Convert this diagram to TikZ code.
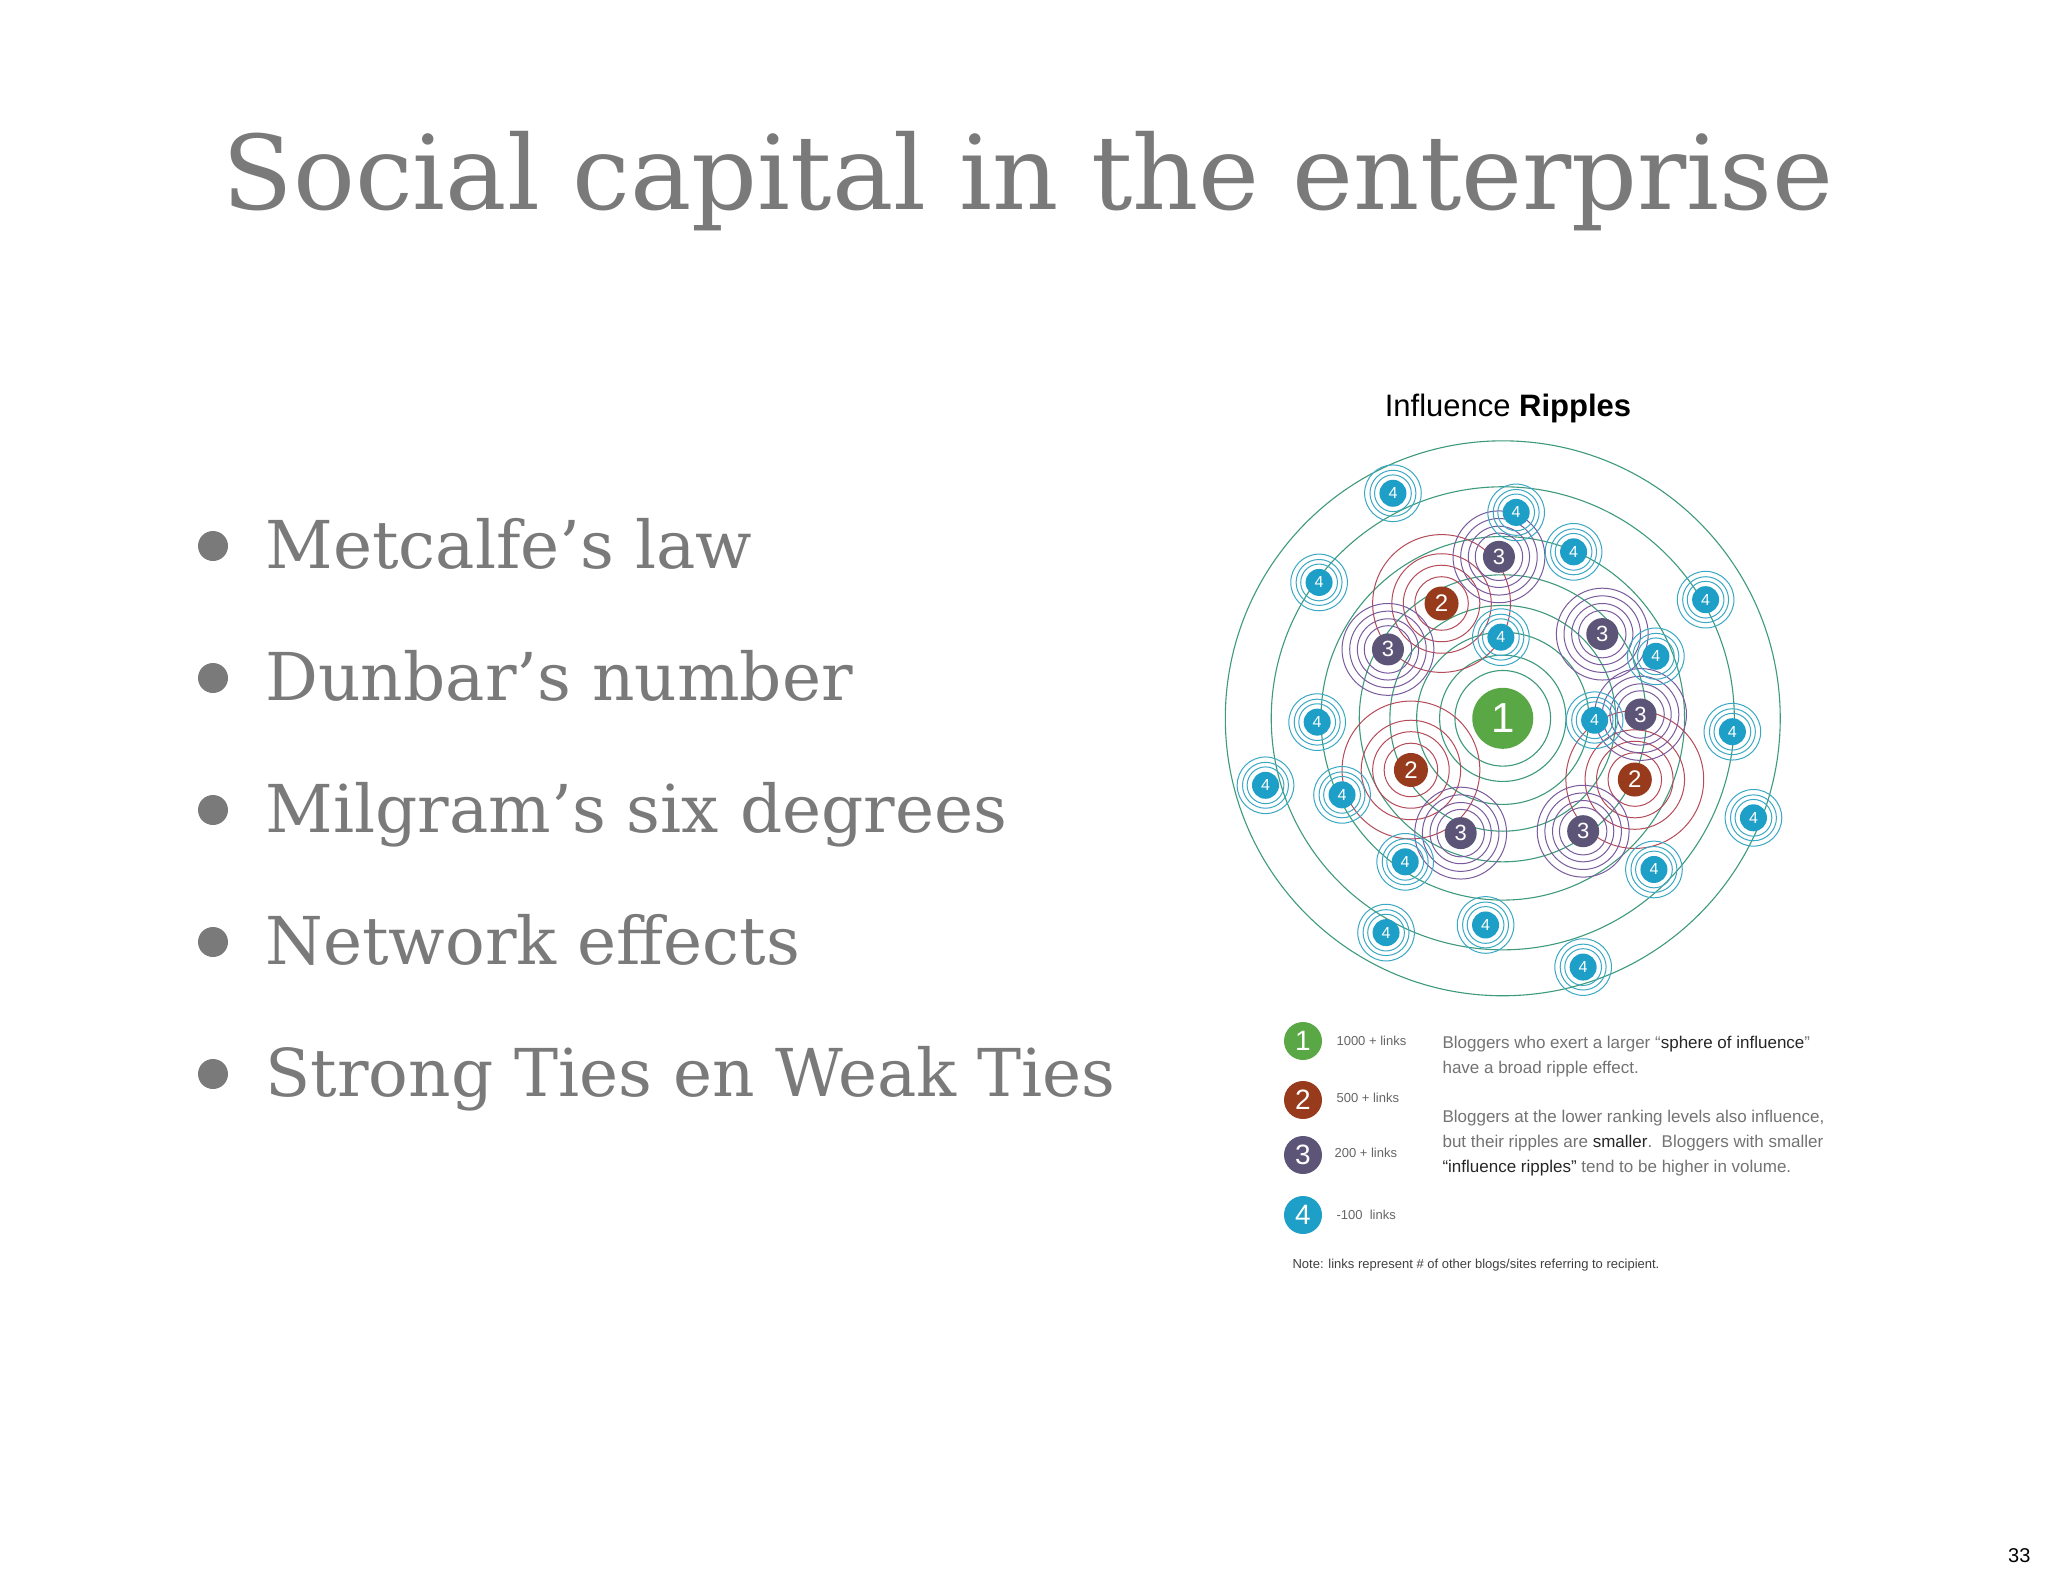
\documentclass[tikz,border=0pt]{standalone}
\usepackage{fontspec}
\setmainfont{DejaVu Serif}
\newfontfamily\hv{Liberation Sans}
\begin{document}
\begin{tikzpicture}[x=1pt,y=-1pt,
  ttl/.style={anchor=base west,text=black!52,font=\fontsize{103}{110}\selectfont},
  bul/.style={anchor=base west,text=black!52,font=\fontsize{66}{72}\selectfont},
  dot/.style={circle,fill=black!52,minimum size=30,inner sep=0},
  nA/.style={circle,fill=c1,text=white,minimum size=61,inner sep=0,font=\hv\fontsize{42}{42}\selectfont},
  nB/.style={circle,fill=c2,text=white,minimum size=34,inner sep=0,font=\hv\fontsize{24}{24}\selectfont},
  nC/.style={circle,fill=c3,text=white,minimum size=32,inner sep=0,font=\hv\fontsize{22}{22}\selectfont},
  nD/.style={circle,fill=c4,text=white,minimum size=27,inner sep=0,font=\hv\fontsize{16}{16}\selectfont},
  lg/.style={anchor=base west,text=black!60,font=\hv\fontsize{13}{15}\selectfont},
  ds/.style={anchor=base west,text=black!55,font=\hv\fontsize{17}{20}\selectfont},
]
\definecolor{c1}{HTML}{5AA845}
\definecolor{c2}{HTML}{983A1C}
\definecolor{c3}{HTML}{5C5578}
\definecolor{c4}{HTML}{1E9FC8}
\definecolor{gr}{HTML}{3E9A7A}
\definecolor{rr}{HTML}{B54A58}
\definecolor{pr}{HTML}{7A5A9E}
\definecolor{br}{HTML}{3AA8C4}
\useasboundingbox[fill=white] (0,0) rectangle (2048,1576);
\node[ttl] (title) at (219,209) {Social capital in the enterprise};
\foreach \t [count=\i] in {Metcalfe’s law,Dunbar’s number,Milgram’s six degrees,Network effects,Strong Ties en Weak Ties}{
  \node[dot] (d\i) at (213,{568+132*(\i-1)-22}) {};
  \node[bul] (b\i) at (262,{568+132*(\i-1)}) {\t};
}
\node[anchor=base,font=\hv\fontsize{31}{34}\selectfont] (rt) at (1508,416) {Influence \textbf{Ripples}};
\begin{scope}[shift={(1210,393)},x=0.3827pt,y=-0.3827pt]
  \foreach \r in {125,165,225,295,375,475,605,725} \draw[gr,line width=1.1pt] (765,850) circle (\r);
  \foreach \x/\y in {605/550,525/985,1110/1010}{
    \foreach \r in {70,100,130,180} \draw[rr,line width=1pt] (\x,\y) circle (\r);}
  \foreach \x/\y in {755/428,465/670,1025/630,1125/840,655/1150,975/1145}{
    \foreach \r in {62,80,100,120} \draw[pr,line width=1pt] (\x,\y) circle (\r);}
  \foreach \x/\y in {478/262,800/312,950/415,285/495,1295/540,760/638,1165/688,280/860,1005/855,1365/885,145/1025,345/1050,1420/1110,510/1225,1160/1245,460/1410,720/1390,975/1500}{
    \foreach \r in {48,60,74} \draw[br,line width=1pt] (\x,\y) circle (\r);}
  \node[nA] (n1) at (765,850) {1};
  \foreach \x/\y [count=\i] in {605/550,525/985,1110/1010} \node[nB] (m\i) at (\x,\y) {2};
  \foreach \x/\y [count=\i] in {755/428,465/670,1025/630,1125/840,655/1150,975/1145} \node[nC] (k\i) at (\x,\y) {3};
  \foreach \x/\y [count=\i] in {478/262,800/312,950/415,285/495,1295/540,760/638,1165/688,280/860,1005/855,1365/885,145/1025,345/1050,1420/1110,510/1225,1160/1245,460/1410,720/1390,975/1500} \node[nD] (j\i) at (\x,\y) {4};
\end{scope}
% legend
\node[nA,minimum size=38,font=\hv\fontsize{28}{28}\selectfont] (L1) at (1303,1041) {1};
\node[nB,minimum size=38,font=\hv\fontsize{28}{28}\selectfont] (L2) at (1303,1100) {2};
\node[nC,minimum size=38,font=\hv\fontsize{28}{28}\selectfont] (L3) at (1303,1155) {3};
\node[nD,minimum size=38,font=\hv\fontsize{28}{28}\selectfont] (L4) at (1303,1215) {4};
\node[lg] (l1) at (1333,1045) {1000 + links};
\node[lg] (l2) at (1333,1102) {500 + links};
\node[lg] (l3) at (1331,1157) {200 + links};
\node[lg] (l4) at (1333,1219) {-100\ \ links};
\node[ds] (s1) at (1439,1048) {Bloggers who exert a larger “\textcolor{black!85}{sphere of influence}”};
\node[ds] (s2) at (1439,1073) {have a broad ripple effect.};
\node[ds] (s3) at (1439,1122) {Bloggers at the lower ranking levels also influence,};
\node[ds] (s4) at (1439,1147) {but their ripples are \textcolor{black!85}{smaller}.\ \ Bloggers with smaller};
\node[ds] (s5) at (1439,1172) {\textcolor{black!85}{“influence ripples”} tend to be higher in volume.};
\node[lg,text=black!75] (note) at (1289,1268) {Note: links represent \# of other blogs/sites referring to recipient.};
\node[anchor=base east,font=\hv\fontsize{20}{22}\selectfont] (pg) at (2034,1562) {33};
\end{tikzpicture}
\end{document}
